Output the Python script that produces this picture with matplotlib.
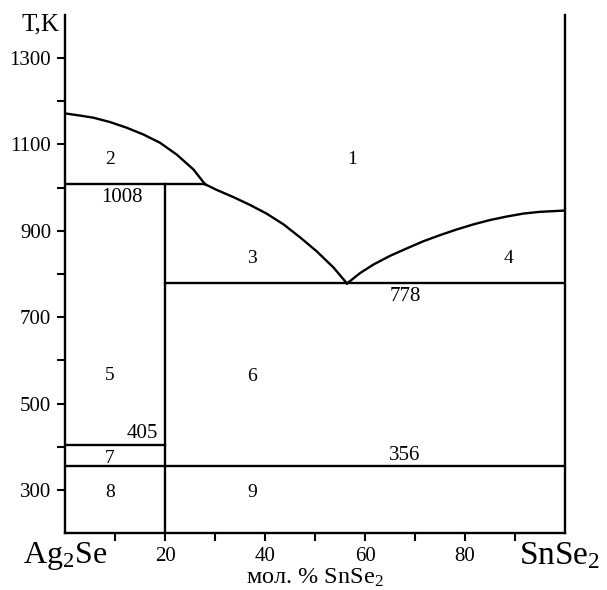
import matplotlib
matplotlib.use("Agg")
import matplotlib.pyplot as plt
from matplotlib.ticker import FixedLocator

plt.rcParams['font.family'] = ['Liberation Serif', 'DejaVu Serif']
plt.rcParams['mathtext.fontset'] = 'custom'
plt.rcParams['mathtext.rm'] = 'Liberation Serif'
plt.rcParams['mathtext.it'] = 'Liberation Serif:italic'

# liquidus branches (mol. % SnSe2, T in K)
liq_left_x = [0, 3, 5.7, 9, 12.3, 15.7, 19, 22.3, 25.7, 28]
liq_left_T = [1172, 1167, 1162, 1152, 1139, 1123, 1104, 1077, 1042, 1008]
liq_mid_x = [28, 30.3, 33.7, 37, 40.3, 43.7, 47, 50.3, 53.7, 56.4]
liq_mid_T = [1008, 995, 978, 960, 940, 915, 885, 853, 815, 778]
liq_right_x = [56.4, 59, 61.7, 65, 68.3, 71.7, 75, 78.3, 81.7, 85, 88.3,
               91.7, 95, 100]
liq_right_T = [778, 802, 822, 842, 859, 876, 890, 903, 915, 925, 933,
               940, 944, 947]

# invariant horizontals: temperature, from, to
inv_T = [1008, 778, 405, 356]
inv_x0 = [0, 20, 0, 0]
inv_x1 = [28, 100, 20, 100]

# compound line at 20 mol. %
comp_x = 20
comp_top = 1008

temp_labels = ['1008', '778', '405', '356']
region_labels = ['1', '2', '3', '4', '5', '6', '7', '8', '9']

fig = plt.figure(figsize=(6.07, 5.90), dpi=100)
ax = fig.add_axes([0.1071, 0.0966, 0.8237, 0.878])

ax.plot(liq_left_x, liq_left_T, color='black', lw=1.7)
ax.plot(liq_mid_x, liq_mid_T, color='black', lw=1.7)
ax.plot(liq_right_x, liq_right_T, color='black', lw=1.7)
for T, a, b in zip(inv_T, inv_x0, inv_x1):
    ax.plot([a, b], [T, T], color='black', lw=1.7)
ax.plot([comp_x, comp_x], [200, comp_top], color='black', lw=1.7)

ax.set_xlim(0, 100)
ax.set_ylim(200, 1400)

# temperature labels
tpos = [(11.4, 978), (68, 747), (15.4, 430), (68, 379)]
for s, (x, y) in zip(temp_labels, tpos):
    ax.text(x, y, s, ha='center', va='center', fontsize=15)

# region numbers
rpos = [(57.4, 1066), (9, 1065), (37.4, 835), (88.8, 835), (9, 566),
        (37.4, 562), (9, 372), (9, 293), (37.4, 293)]
for s, (x, y) in zip(region_labels, rpos):
    ax.text(x, y, s, ha='center', va='center', fontsize=14)

ax.spines['top'].set_visible(False)
for sp in ['left', 'bottom', 'right']:
    ax.spines[sp].set_linewidth(1.7)

ax.set_xticks([20, 40, 60, 80])
ax.xaxis.set_minor_locator(FixedLocator([10, 30, 50, 70, 90]))
ax.set_yticks([300, 500, 700, 900, 1100, 1300])
ax.yaxis.set_minor_locator(FixedLocator([400, 600, 800, 1000, 1200]))
ax.tick_params(axis='both', which='both', direction='out', length=6,
               width=1.5, labelsize=15, pad=4)
ax.tick_params(right=False, which='both')

ax.text(0, -0.044, r'Ag$_2$Se', transform=ax.get_xaxis_transform(),
        ha='center', va='center', fontsize=23)
ax.text(99, -0.044, r'SnSe$_2$', transform=ax.get_xaxis_transform(),
        ha='center', va='center', fontsize=24)
ax.text(50, -0.087, r'мол. % SnSe$_2$', transform=ax.get_xaxis_transform(),
        ha='center', va='center', fontsize=17.5)
fig.text(0.066, 0.958, 'T,K', ha='center', va='center', fontsize=18)

fig.savefig('out.png', dpi=100)
